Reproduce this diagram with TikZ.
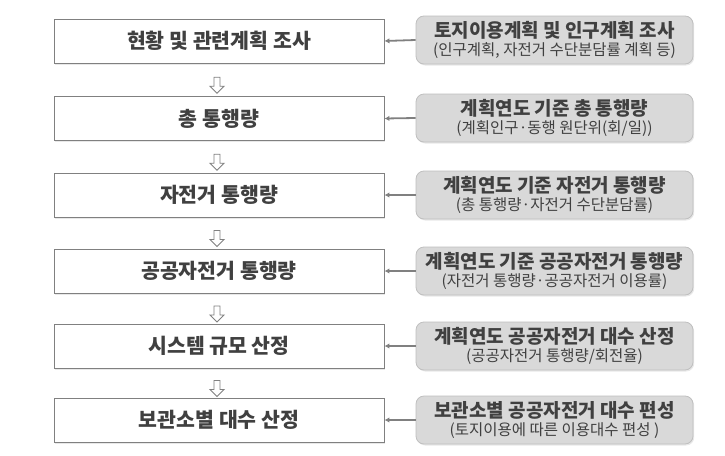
\documentclass[tikz,border=0pt]{standalone}
\usepackage{fontspec}
\setmainfont{Noto Sans CJK KR}
\usetikzlibrary{shapes.arrows,shadows,calc,arrows.meta}
\definecolor{lborder}{HTML}{808080}
\definecolor{rfill}{HTML}{D9D9D9}
\definecolor{rborder}{HTML}{BFBFBF}
\definecolor{txt}{HTML}{404040}
\definecolor{arrgray}{HTML}{808080}
\tikzset{
  lbox/.style={draw=lborder, line width=0.9pt, fill=white, minimum width=330pt, minimum height=44pt,
    inner sep=0pt, text=txt, font=\fontsize{20.5}{24}\selectfont\bfseries,
    drop shadow={shadow xshift=1.2pt, shadow yshift=-1.5pt, opacity=0.18}},
  rbox/.style={draw=rborder, line width=0.8pt, fill=rfill, rounded corners=8pt, minimum width=277pt,
    minimum height=48pt, inner sep=0pt, text=txt, align=center, font=\fontsize{15.5}{19}\selectfont,
    drop shadow={shadow xshift=1.2pt, shadow yshift=-1.5pt, opacity=0.18}},
  feed/.style={draw=arrgray, line width=1.8pt, -{Latex[length=5pt,width=5.5pt]}},
  downarr/.style={single arrow, draw=arrgray, fill=white, line width=0.9pt, shape border rotate=270,
    minimum height=16pt, minimum width=14pt, single arrow head extend=3pt, single arrow tip angle=90, inner sep=1.8pt},
}
\newcommand{\ra}[2]{{\fontsize{19}{20}\selectfont\bfseries #1}\\[-1pt]{#2}}
\begin{document}
\begin{tikzpicture}[x=1pt,y=-1pt]
\useasboundingbox (0,0) rectangle (725,455);
\node[lbox] (l1) at (219,41) {현황 및 관련계획 조사};
\node[lbox] (l2) at (219,118.5) {총 통행량};
\node[lbox] (l3) at (219,195) {자전거 통행량};
\node[lbox] (l4) at (219,271) {공공자전거 통행량};
\node[lbox] (l5) at (219,346) {시스템 규모 산정};
\node[lbox] (l6) at (219,420) {보관소별 대수 산정};

\node[rbox] (r1) at (554.5,40) {\ra{토지이용계획 및 인구계획 조사}{(인구계획, 자전거 수단분담률 계획 등)}};
\node[rbox] (r2) at (554.5,118) {\ra{계획연도 기준 총 통행량}{(계획인구·동행 원단위(회/일))}};
\node[rbox] (r3) at (554.5,195) {\ra{계획연도 기준 자전거 통행량}{(총 통행량·자전거 수단분담률)}};
\node[rbox] (r4) at (554.5,271) {\ra{계획연도 기준 공공자전거 통행량}{(자전거 통행량·공공자전거 이용률)}};
\node[rbox] (r5) at (554.5,346) {\ra{계획연도 공공자전거 대수 산정}{(공공자전거 통행량/회전율)}};
\node[rbox] (r6) at (554.5,420) {\ra{보관소별 공공자전거 대수 편성}{(토지이용에 따른 이용대수 편성 )}};

\foreach \i in {1,...,6}{
  \draw[feed] (r\i.west) -- (l\i.east);
}
\foreach \i/\j in {1/2,2/3,3/4,4/5,5/6}{
  \node[downarr] (d\i) at ($(l\i.south)!0.5!(l\j.north)+(-2,4)$) {};
}
\end{tikzpicture}
\end{document}
